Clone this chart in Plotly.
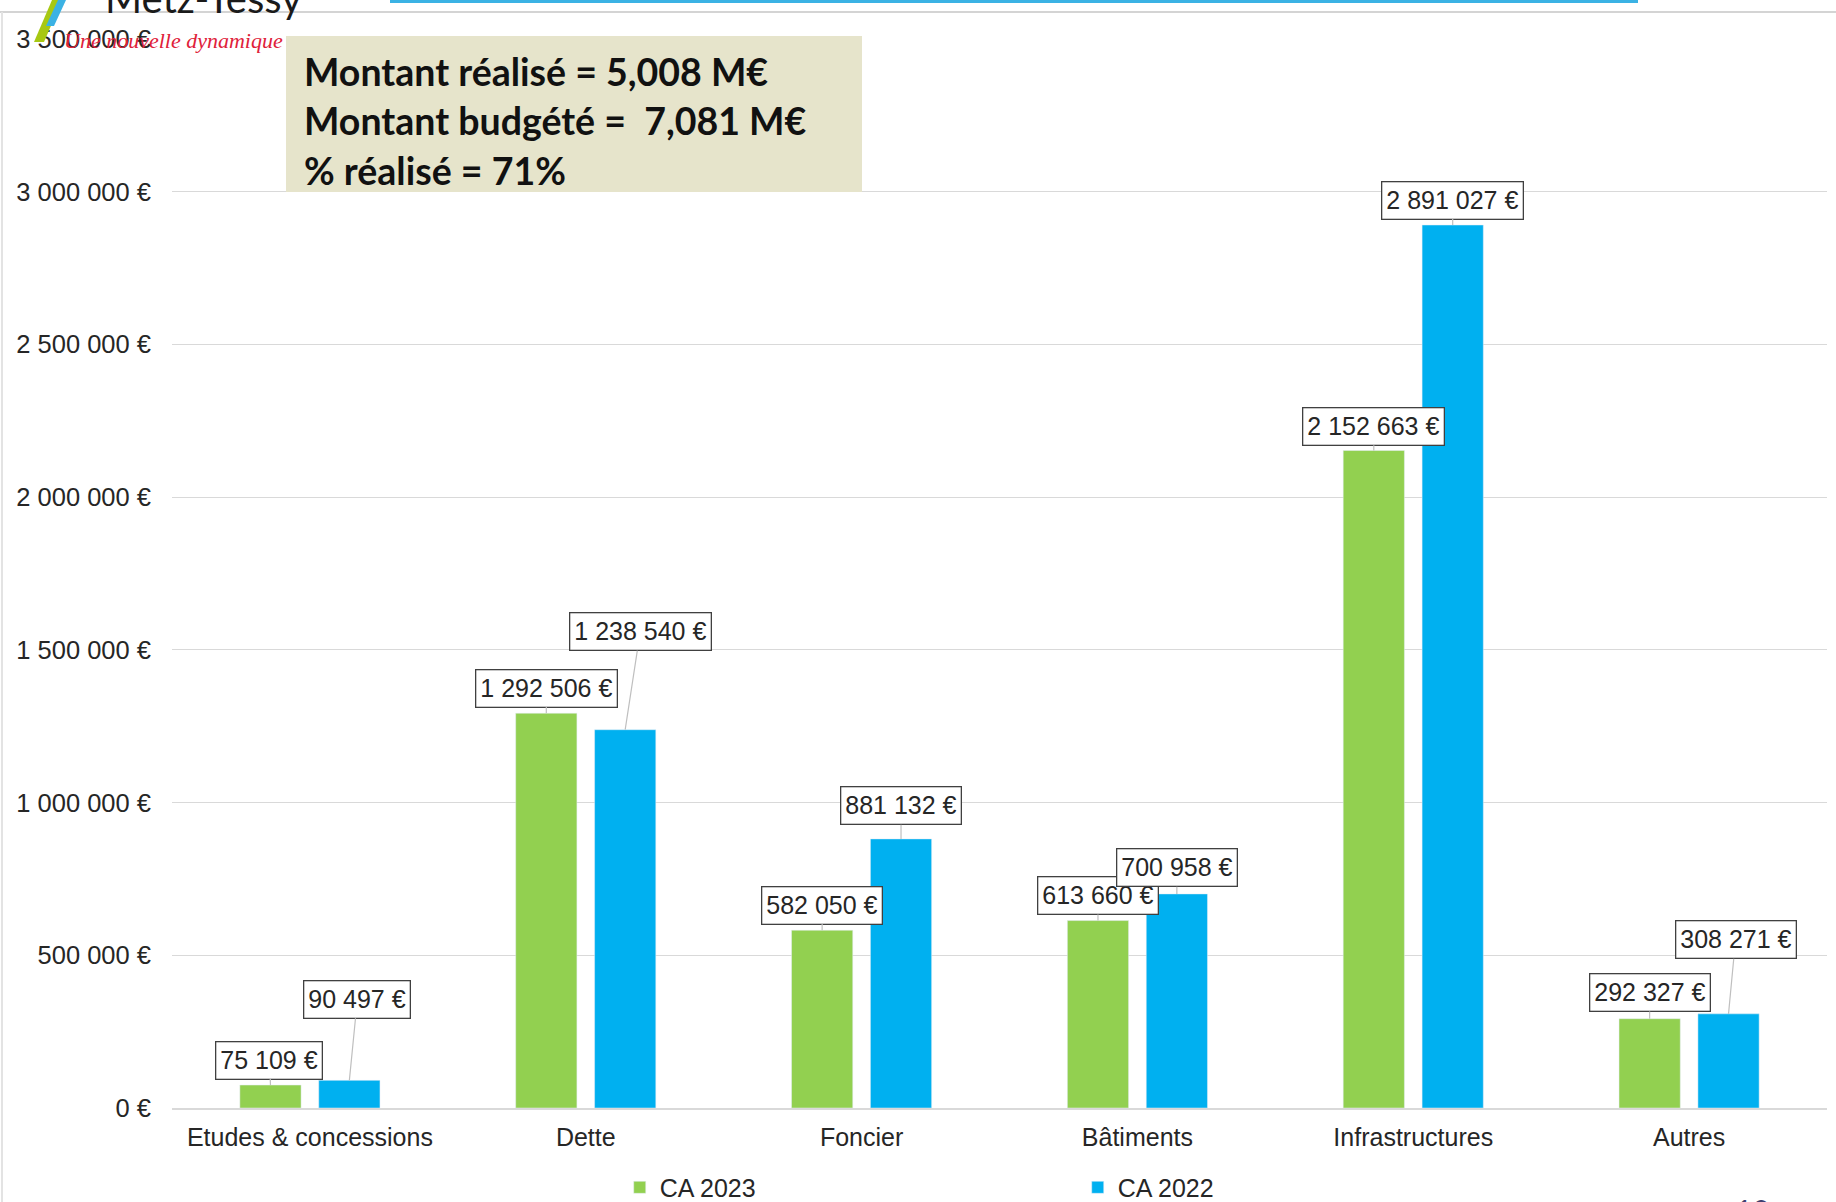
import plotly.graph_objects as go

# ---------------- data ----------------
categories = ["Etudes & concessions", "Dette", "Foncier", "Bâtiments", "Infrastructures", "Autres"]
ca_2023 = [75109, 1292506, 582050, 613660, 2152663, 292327]
ca_2022 = [90497, 1238540, 881132, 700958, 2891027, 308271]
tick_vals = [0, 500000, 1000000, 1500000, 2000000, 2500000, 3000000, 3500000]
tick_text = ["0 €", "500 000 €", "1 000 000 €", "1 500 000 €", "2 000 000 €",
             "2 500 000 €", "3 000 000 €", "3 500 000 €"]
summary_lines = ["Montant réalisé = 5,008 M€",
                 "Montant budgété =  7,081 M€",
                 "% réalisé = 71%"]

# ---------------- layout constants ----------------
W, H = 1836, 1202
ML, MR, MT, MB = 172, 9, 39, 94
PW, PH = W - ML - MR, H - MT - MB
BARGAP, BARGROUPGAP = 0.428, 0.224

GREEN = "#92D050"
BLUE = "#00B0F0"
TXT = "#262626"
FONT = "Liberation Sans, Arial, sans-serif"

# label offsets (pixels) for the boxed value labels: (ax, ay)
off_2023 = [(-1, -25), (0, -25), (0, -25), (0, -25), (0, -24), (0, -26)]
off_2022 = [(8, -81), (15, -98), (0, -33), (0, -26), (0, -25), (7, -74)]


def fmt(v):
    return f"{v:,}".replace(",", " ") + " €"


def xp(px):
    return (px - ML) / PW


def yp(py):
    return (H - MB - py) / PH


fig = go.Figure()
fig.add_trace(go.Bar(name="CA 2023", x=categories, y=ca_2023, marker_color=GREEN))
fig.add_trace(go.Bar(name="CA 2022", x=categories, y=ca_2022, marker_color=BLUE))

# bar centre offset in pixels within a group
cat_w = PW / len(categories)
slot = (1 - BARGAP) * cat_w / 2
shift = slot / 2

annotations = []
for series, offs, sgn in ((ca_2023, off_2023, -1), (ca_2022, off_2022, 1)):
    for c, v, (ax, ay) in zip(categories, series, offs):
        annotations.append(dict(
            x=c, y=v, xref="x", yref="y", xshift=sgn * shift,
            text=fmt(v), showarrow=True, ax=ax, ay=ay,
            arrowhead=0, arrowwidth=1.2, arrowcolor="#BFBFBF",
            bgcolor="white", bordercolor="#404040", borderwidth=1.3, borderpad=4,
            font=dict(family=FONT, size=25, color=TXT)))

# summary box text
line_y = [71, 121, 170]
for t, py in zip(summary_lines, line_y):
    annotations.append(dict(
        x=xp(302), y=yp(py), xref="paper", yref="paper", xanchor="left", yanchor="middle",
        text=f"<b>{t}</b>", showarrow=False,
        font=dict(family="Lato, Open Sans, sans-serif", size=37.5, color="#111111")))

# logo-ish texts and page number
annotations.append(dict(x=xp(103), y=yp(24), xref="paper", yref="paper", xanchor="left",
                        yanchor="bottom", text="Metz-Tessy", showarrow=False,
                        font=dict(family="Lato, sans-serif", size=40, color="#1a1a1a")))
annotations.append(dict(x=xp(62), y=yp(40), xref="paper", yref="paper", xanchor="left",
                        yanchor="middle", text="<i>Une nouvelle dynamique</i>", showarrow=False,
                        font=dict(family="Liberation Serif, serif", size=22, color="#E0213A")))
annotations.append(dict(x=xp(1752), y=yp(1190), xref="paper", yref="paper", xanchor="center",
                        yanchor="top", text="10", showarrow=False,
                        font=dict(family="Lato, sans-serif", size=30, color="#3F3F6F")))

shapes = [
    # summary beige box
    dict(type="rect", xref="paper", yref="paper", x0=xp(286), x1=xp(862), y0=yp(192), y1=yp(36),
         fillcolor="#E6E4CB", line=dict(width=0), layer="above"),
    # slide header lines
    dict(type="rect", xref="paper", yref="paper", x0=xp(390), x1=xp(1638), y0=yp(0), y1=yp(3),
         fillcolor="#3BB2E4", line=dict(width=0), layer="above"),
    dict(type="line", xref="paper", yref="paper", x0=xp(0), x1=xp(W), y0=yp(12), y1=yp(12),
         line=dict(color="#D4D4D4", width=2), layer="below"),
    # logo swoosh
    dict(type="path", xref="paper", yref="paper",
         path=f"M {xp(34)},{yp(42)} L {xp(44)},{yp(42)} L {xp(62)},{yp(0)} L {xp(52)},{yp(0)} Z",
         fillcolor="#A7C813", line=dict(width=0), layer="above"),
    dict(type="path", xref="paper", yref="paper",
         path=f"M {xp(46)},{yp(26)} L {xp(54)},{yp(26)} L {xp(66)},{yp(0)} L {xp(58)},{yp(0)} Z",
         fillcolor="#3BB2E4", line=dict(width=0), layer="above"),
    # left page border
    dict(type="line", xref="paper", yref="paper", x0=xp(2), x1=xp(2), y0=yp(12), y1=yp(H),
         line=dict(color="#E3E3E3", width=2), layer="below"),
]

fig.update_layout(
    width=W, height=H,
    margin=dict(l=ML, r=MR, t=MT, b=MB, autoexpand=False),
    paper_bgcolor="white", plot_bgcolor="white",
    barmode="group", bargap=BARGAP, bargroupgap=BARGROUPGAP,
    font=dict(family=FONT, size=24, color=TXT),
    xaxis=dict(showgrid=False, showline=True, linecolor="#D9D9D9", linewidth=2,
               ticks="", tickfont=dict(size=25, color=TXT), ticklabelstandoff=6,
               automargin=False),
    yaxis=dict(range=[0, 3500000], tickvals=tick_vals, ticktext=tick_text,
               showgrid=True, gridcolor="#D9D9D9", gridwidth=1.3, zeroline=False,
               ticks="", tickfont=dict(size=25.5, color=TXT), ticklabelstandoff=20,
               automargin=False),
    legend=dict(orientation="h", xref="container", yref="container",
                x=0.587, xanchor="center", y=0.012, yanchor="middle",
                entrywidth=413, entrywidthmode="pixels",
                font=dict(size=25, color=TXT), itemwidth=30, traceorder="normal"),
    annotations=annotations,
    shapes=shapes,
)

fig.write_html("out.html")
